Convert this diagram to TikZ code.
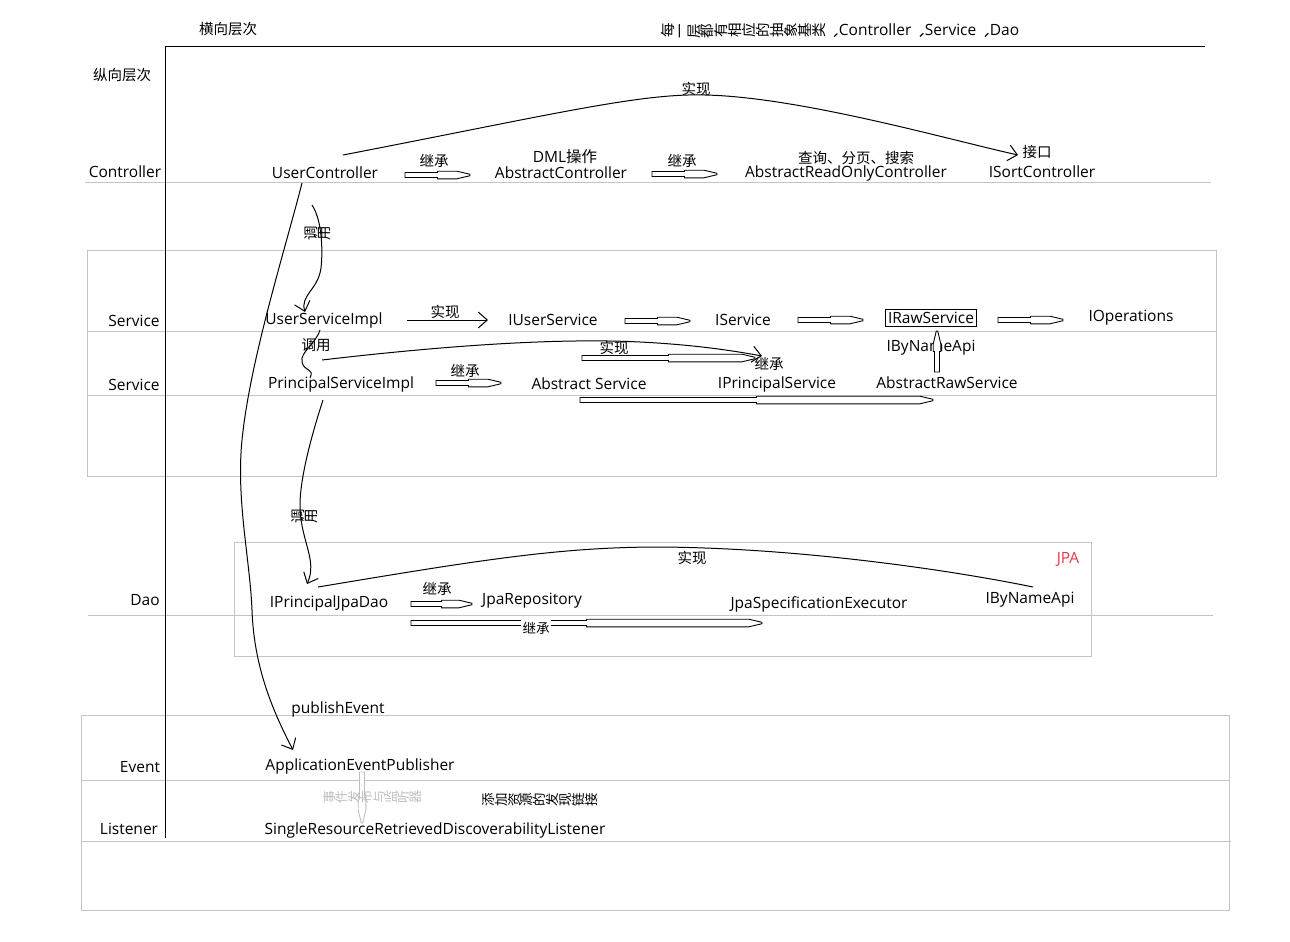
\documentclass[tikz,border=0pt]{standalone}
\usepackage{fontspec}
\usepackage{graphicx}
\setmainfont{Open Sans}
\newfontfamily\cjk{Noto Sans CJK SC}
\usetikzlibrary{arrows.meta,calc}
\makeatletter
\def\vtxt#1{\vt@i#1\relax}
\def\vt@i#1{\ifx\relax#1\else\rotatebox[origin=c]{90}{\makebox[1em]{\rule[-0.12em]{0pt}{0.88em}#1}}\expandafter\vt@i\fi}
\makeatother
\definecolor{jpared}{HTML}{E8374F}
\tikzset{
  lbl/.style={inner sep=0pt, font=\fontsize{15.5}{18}\selectfont},
  zh/.style={inner sep=0pt, font=\cjk\fontsize{14.5}{17}\selectfont},
  gl/.style={draw=black!23, line width=1pt},
  axisline/.style={draw=black, line width=1pt},
  hand/.style={draw=black, line width=1pt},
  barb/.style={-{Straight Barb[length=9pt,width=16pt]}},
  fat/.style={draw=black, line width=0.9pt, fill=white},
}
\newcommand\fatarrow[3][black]{%
  \coordinate (fa) at #2; \coordinate (fb) at #3;
  \coordinate (fm) at ($(fa)!.5!(fb)$);
  \coordinate (ft) at ($(fb)!13pt!(fa)$);
  \draw[fat, draw=#1] ($(fa)!2.5pt!90:(fb)$) -- ($(fm)!2.5pt!90:(fb)$) -- ($(fm)!3.8pt!90:(fb)$) -- ($(ft)!3.8pt!90:(fb)$) -- ($(fb)!.7pt!-90:(fa)$) -- ($(fb)!.7pt!90:(fa)$) -- ($(ft)!3.8pt!-90:(fb)$) -- ($(fm)!3.8pt!-90:(fb)$) -- ($(fm)!2.5pt!-90:(fb)$) -- ($(fa)!2.5pt!-90:(fb)$) -- cycle;}
\begin{document}
\begin{tikzpicture}[x=1pt,y=-1pt]
\useasboundingbox (0,0) rectangle (1290,942);
\fill[white] (0,0) rectangle (1290,942);
% gray layer lines and frames
\draw[gl] (85,182) -- (1211,182);
\draw[gl] (87,250) rectangle (1216,476);
\draw[gl] (87,331) -- (1216,331);
\draw[gl] (87,395) -- (1216,395);
\draw[gl] (234,542) rectangle (1091,656);
\draw[gl] (88,615) -- (1213,615);
\draw[gl] (81,715) rectangle (1229,910);
\draw[gl] (81,780) -- (1229,780);
\draw[gl] (81,841) -- (1231,841);
% axes
\draw[axisline] (165,47) -- (1205,47);
\draw[axisline] (165,47) -- (165,838);
% headers
\node[zh] (hx) at (228,29) {横向层次};
\node[zh] (zx) at (122,75) {纵向层次};
\node[lbl] (top) at (840,31) {{\cjk\fontsize{14.5}{17}\selectfont\vtxt{每一层都有相应的抽象基类、}}Controller{\cjk\vtxt{、}}Service{\cjk\vtxt{、}}Dao};
% row labels
\node[lbl] (lc) at (125,172) {Controller};
\node[lbl] (ls1) at (134,321) {Service};
\node[lbl] (ls2) at (134,385) {Service};
\node[lbl] (ld) at (145,600) {Dao};
\node[lbl] (le) at (140,767) {Event};
\node[lbl] (ll) at (129,829) {Listener};
% controller row
\node[lbl] (uc) at (325,173) {UserController};
\node[zh] (jc1) at (434,161) {继承};
\node[lbl] (dml) at (565,157) {DML{\cjk 操作}};
\node[lbl] (ac) at (561,173) {AbstractController};
\node[zh] (jc2) at (682,161) {继承};
\node[zh] (cx) at (856,158) {查询、分页、搜索};
\node[lbl] (aroc) at (846,173) {AbstractReadOnlyController};
\node[zh] (jk) at (1037,152) {接口};
\node[lbl] (isc) at (1042,172) {ISortController};
\node[zh] (sx1) at (696,89) {实现};
\node[zh] (dy1) at (318,233) {\vtxt{调用}};
% service rows
\node[lbl] (usi) at (324,320) {UserServiceImpl};
\node[zh] (sx2) at (445,312) {实现};
\node[lbl] (ius) at (553,320) {IUserService};
\node[lbl] (is) at (743,320) {IService};
\node[lbl, draw, line width=1pt, inner xsep=3pt, inner ysep=2.5pt] (irs) at (931,318) {IRawService};
\node[lbl] (iop) at (1131,318) {IOperations};
\node[zh] (dy2) at (316,345) {调用};
\node[zh] (sx3) at (614,348) {实现};
\node[zh] (jc3) at (769,364) {继承};
\node[lbl] (ibn1) at (931,348) {IByNameApi};
\node[lbl] (psi) at (341,384) {PrincipalServiceImpl};
\node[zh] (jc4) at (465,371) {继承};
\node[lbl] (as) at (589,384) {Abstract Service};
\node[lbl] (ips) at (777,384) {IPrincipalService};
\node[lbl] (ars) at (947,383) {AbstractRawService};
% dao row
\node[zh] (dy3) at (305,516) {\vtxt{调用}};
\node[lbl] (ipjd) at (329,603) {IPrincipalJpaDao};
\node[zh] (jc5) at (437,589) {继承};
\node[lbl] (jr) at (532,601) {JpaRepository};
\node[lbl] (jse) at (819,604) {JpaSpecificationExecutor};
\node[lbl] (ibn2) at (1030,600) {IByNameApi};
\node[lbl, text=jpared] (jpa) at (1068,559) {JPA};
\node[zh] (sx4) at (692,558) {实现};
% event rows
\node[lbl] (pe) at (338,709) {publishEvent};
\node[lbl] (aep) at (360,766) {ApplicationEventPublisher};
\node[lbl] (srl) at (435,830) {SingleResourceRetrievedDiscoverabilityListener};
% inheritance (fat) arrows
\fatarrow{([shift={(80,2)}]uc.center)}{([shift={(-91,2)}]ac.center)}
\fatarrow{([shift={(91,1)}]ac.center)}{([shift={(-129,1)}]aroc.center)}
\fatarrow{([shift={(72,1)}]ius.center)}{([shift={(-53,1)}]is.center)}
\fatarrow{([shift={(55,0)}]is.center)}{([shift={(-68,2)}]irs.center)}
\fatarrow{([shift={(67,2)}]irs.center)}{([shift={(-68,2)}]iop.center)}
\fatarrow{([shift={(95,-1)}]psi.center)}{([shift={(-88,-1)}]as.center)}
\fatarrow{([shift={(-7,-26)}]as.center)}{([shift={(-22,-26)}]ips.center)}
\fatarrow{([shift={(-9,16)}]as.center)}{([shift={(-14,17)}]ars.center)}
\fatarrow{([shift={(-10,-11)}]ars.center)}{([shift={(6,13)}]irs.center)}
\fatarrow{([shift={(82,1)}]ipjd.center)}{([shift={(-60,3)}]jr.center)}
\fatarrow{([shift={(82,20)}]ipjd.center)}{([shift={(-57,19)}]jse.center)}
\fatarrow[black!25]{([shift={(2,6)}]aep.center)}{([shift={(-73,-7)}]srl.center)}
\node[zh, fill=white, inner sep=1.5pt, font=\cjk\fontsize{13.5}{16}\selectfont] (jc6) at (536,628) {继承};
% rotated notes in listener row
\node[zh, text=black!25, font=\cjk\fontsize{13}{15}\selectfont] (note1) at (373,797) {\vtxt{事件发布与监听器}};
\node[zh, font=\cjk\fontsize{13.5}{16}\selectfont] (note2) at (540,800) {\vtxt{添加资源的发现链接}};
% implementation arrows
\draw[hand, barb] ([shift={(83,0)}]usi.center) -- ([shift={(-65,0)}]ius.center);
\draw[hand, barb] ([shift={(18,-18)}]uc.center) .. controls (550,115) and (640,93) .. (705,95) .. controls (800,97) and (950,140) .. ([shift={(-19,3)}]jk.center);
\draw[hand, barb] ([shift={(-19,-24)}]psi.center) .. controls (450,345) and (560,338) .. (640,342) .. controls (700,345) and (740,352) .. ([shift={(-7,-8)}]jc3.center);
\draw[hand] ([shift={(-11,-16)}]ipjd.center) .. controls (480,560) and (560,547) .. (660,547) .. controls (800,548) and (950,570) .. ([shift={(3,-13)}]ibn2.center);
% call arrows
\draw[hand, barb] ([shift={(-13,32)}]uc.center) .. controls (322,220) and (323,250) .. (321,268) .. controls (318,290) and (300,295) .. ([shift={(-19,-8)}]usi.center);
\draw[hand] ([shift={(-4,10)}]usi.center) .. controls (315,345) and (300,352) .. (302,362) .. controls (304,372) and (315,368) .. ([shift={(-31,-6)}]psi.center);
\draw[hand, barb] ([shift={(-18,16)}]psi.center) .. controls (310,440) and (300,480) .. (300,505) .. controls (300,540) and (318,560) .. ([shift={(-22,-19)}]ipjd.center);
\draw[hand, barb] ([shift={(-23,10)}]uc.center) .. controls (285,250) and (250,360) .. (242,440) .. controls (236,500) and (250,560) .. (252,610) .. controls (254,670) and (275,715) .. ([shift={(-67,-16)}]aep.center);
\end{tikzpicture}
\end{document}
